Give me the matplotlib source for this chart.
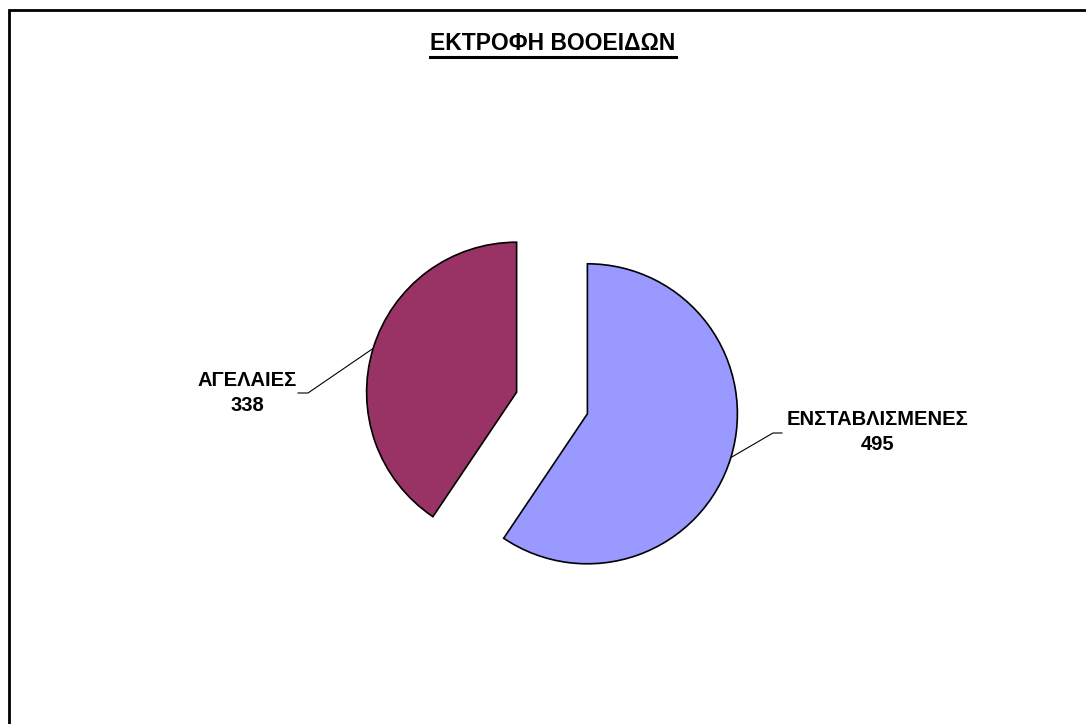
import numpy as np
import matplotlib.pyplot as plt
from matplotlib.patches import Rectangle
from matplotlib.lines import Line2D

# Cattle farming: housed vs. grazing herds
categories = ['ΕΝΣΤΑΒΛΙΣΜΕΝΕΣ', 'ΑΓΕΛΑΙΕΣ']
values = [495, 338]
colors = ['#9999FF', '#993366']
title = 'ΕΚΤΡΟΦΗ ΒΟΟΕΙΔΩΝ'

plt.rcParams['font.family'] = ['Liberation Sans', 'DejaVu Sans']

W, H = 1086, 724
fig = plt.figure(figsize=(W / 100, H / 100), dpi=100)
ax = fig.add_axes([0, 0, 1, 1])

center = (552, H - 403)
radius = 150
# explode is in data units (pixels here)
wedges, _ = ax.pie(values, colors=colors, startangle=90, counterclock=False,
                   explode=[37, 37], radius=radius, center=center,
                   wedgeprops=dict(edgecolor='black', linewidth=1.2))

# pie() rescales the axes, so pin them back to pixel units
ax.set_xlim(0, W)
ax.set_ylim(0, H)
ax.set_aspect('equal')
ax.axis('off')

# outer frame of the chart area (runs off the right and bottom)
ax.add_patch(Rectangle((9, -20), W + 40, H - 10 + 20, fill=False,
                       edgecolor='black', linewidth=2))

# title with underline
t = ax.text(553, H - 44, title, ha='center', va='center',
            fontsize=16.5, fontweight='bold')
fig.canvas.draw()
bb = t.get_window_extent().transformed(ax.transData.inverted())
ax.add_line(Line2D([bb.x0, bb.x1], [bb.y0 - 1, bb.y0 - 1], color='black', lw=2.2))

# labels with leader lines: (text xy, elbow xy, horizontal end x)
label_pos = {
    'ΕΝΣΤΑΒΛΙΣΜΕΝΕΣ': ((878, H - 432), (773, H - 433), 782),
    'ΑΓΕΛΑΙΕΣ': ((247, H - 393), (308, H - 393), 298),
}
for w, name, val in zip(wedges, categories, values):
    mid = np.deg2rad((w.theta1 + w.theta2) / 2)
    cx, cy = w.center
    px = cx + w.r * np.cos(mid)
    py = cy + w.r * np.sin(mid)
    (tx, ty), (ex, ey), hx = label_pos[name]
    ax.plot([px, ex, hx], [py, ey, ey], color='black', lw=0.8)
    ax.text(tx, ty, f'{name}\n{val}', ha='center', va='center',
            fontsize=14.5, fontweight='bold', linespacing=1.4)

fig.savefig('out.png', dpi=100)
